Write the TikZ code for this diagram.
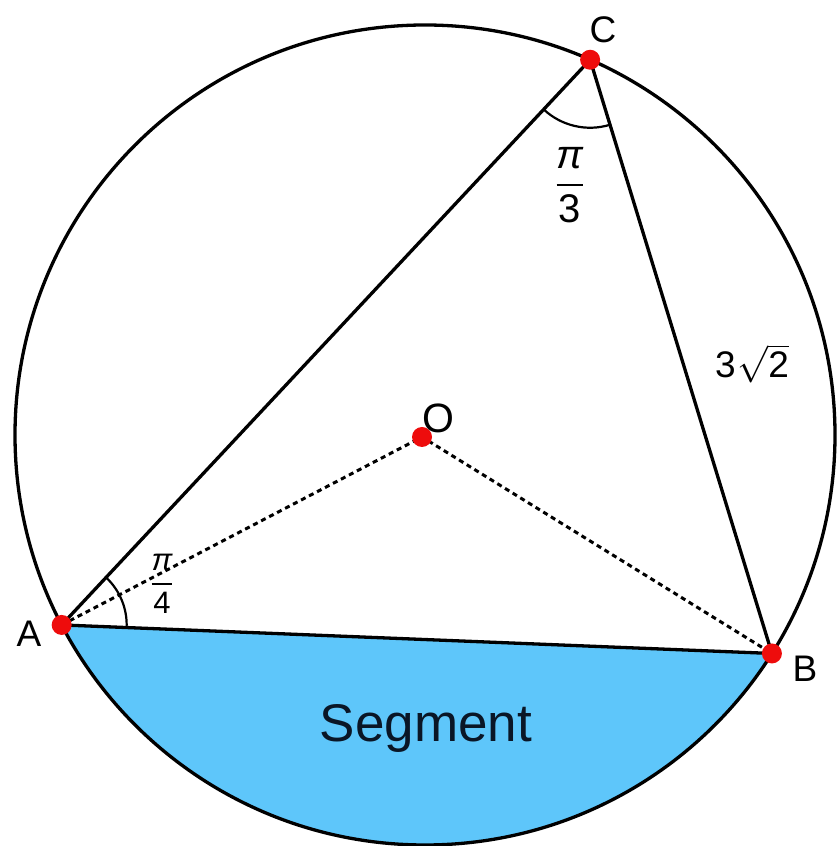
\RequirePackage{fix-cm}
\documentclass[tikz,border=0pt]{standalone}
\usepackage{fontspec}
\setmainfont{Liberation Sans}
\definecolor{segblue}{RGB}{94,198,250}
\definecolor{segtext}{RGB}{10,22,38}
\definecolor{dotred}{RGB}{238,12,12}
\begin{document}
\begin{tikzpicture}[x=1pt,y=1pt,
  rim/.style={line width=3.3pt, black},
  sideline/.style={line width=3.3pt, black, line join=round},
  radial/.style={line width=3pt, dash pattern=on 5pt off 4pt},
  anglemark/.style={line width=2.2pt},
  dot/.style={circle, fill=dotred, inner sep=0pt, minimum size=20pt},
  lbl/.style={inner sep=0pt, anchor=base, font=\fontsize{37}{40}\selectfont},
  fraclbl/.style={inner sep=0pt, anchor=center}
]
\useasboundingbox (0,0) rectangle (836,846);
\coordinate (ctr) at (425,411);
\coordinate (A) at ([shift={(207.6:410pt)}]ctr);
\coordinate (B) at ([shift={(327.8:410pt)}]ctr);
\coordinate (C) at ([shift={(66.25:410pt)}]ctr);
\coordinate (O) at (422,409);
% segment
\fill[segblue] (A) arc[start angle=207.6, end angle=327.8, radius=410pt] -- cycle;
% circle
\draw[rim] (ctr) circle[radius=410pt];
% triangle
\draw[sideline] (A) -- (B) -- (C) -- cycle;
% radii
\draw[radial] (A) -- (O) -- (B);
% angle marks
\draw[anglemark] ([shift={(226.9:68pt)}]C) arc[start angle=226.9, end angle=287.0, radius=68pt];
\draw[anglemark] ([shift={(-2.3:65pt)}]A) arc[start angle=-2.3, end angle=46.9, radius=65pt];
% dots
\node[dot] (pA) at (A) {};
\node[dot] (pB) at (B) {};
\node[dot] (pC) at (C) {};
\node[dot] (pO) at (O) {};
% labels
\node[lbl] (lC) at (603,803) {C};
\node[lbl] (lA) at (29,199) {A};
\node[lbl] (lB) at (805,164) {B};
\node[lbl, font=\fontsize{41}{44}\selectfont] (lO) at (438,413) {O};
\node[lbl, font=\fontsize{37}{40}\selectfont] (lBC) at (752,468) {3\kern2pt$\sqrt{\hbox{2}}$};
\node[lbl, font=\fontsize{53}{60}\selectfont, text=segtext] (seg) at (426,104) {Segment};
\node[fraclbl, font=\fontsize{40}{44}\selectfont] (fC) at (570,661) {$\displaystyle{\hbox{\itshape π}\above2.6pt\hbox{3}}$};
\node[fraclbl, font=\fontsize{31}{34}\selectfont] (fA) at (162,262) {$\displaystyle{\hbox{\itshape π}\above2.4pt\hbox{4}}$};
\end{tikzpicture}
\end{document}
